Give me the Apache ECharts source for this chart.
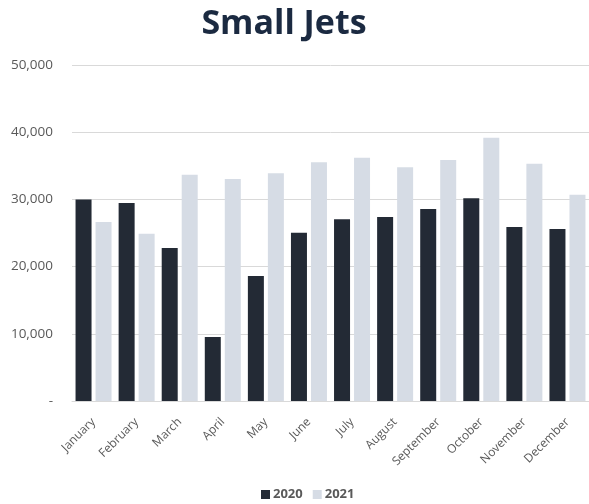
<!DOCTYPE html>
<html><head><meta charset="utf-8">
<script src="https://cdn.jsdelivr.net/npm/echarts@6/dist/echarts.min.js"></script>
<style>html,body{margin:0;padding:0;background:#fff}#c{width:589px;height:504px}</style>
</head><body><div id="c"></div>
<script>
const months = ['January','February','March','April','May','June','July','August','September','October','November','December'];
const s2020 = [30000,29450,22770,9520,18600,25050,27030,27380,28570,30160,25890,25600];
const s2021 = [26640,24900,33680,33040,33880,35520,36200,34770,35860,39180,35320,30700];
const seriesNames = ['2020','2021'];
const yTicks = [0,10000,20000,30000,40000,50000];

const chart = echarts.init(document.getElementById('c'), null, {renderer:'canvas'});
const font = '"Open Sans", sans-serif';
chart.setOption({
  animation:false,
  title:{text:'Small Jets',left:279,top:2,textAlign:'center',
    textStyle:{fontFamily:font,fontWeight:'bold',fontSize:34,color:'#1b2a41'}},
  legend:{bottom:-2,left:256,itemWidth:9,itemHeight:9,itemGap:10,icon:'rect',
    textStyle:{fontFamily:font,fontWeight:'bold',fontSize:13,color:'#595959',padding:[0,0,0,-2]},
    data:seriesNames},
  grid:{left:72,top:65,width:518,height:336},
  xAxis:{type:'category',data:months,
    axisLine:{lineStyle:{color:'#d9d9d9'}},axisTick:{show:false},
    axisLabel:{rotate:45,interval:0,fontFamily:font,fontSize:12,color:'#595959',margin:19}},
  yAxis:{type:'value',min:yTicks[0],max:yTicks[yTicks.length-1],interval:10000,
    axisLine:{show:false},axisTick:{show:false},
    splitLine:{lineStyle:{color:'#d9d9d9'}},
    axisLabel:{fontFamily:font,fontSize:13.5,color:'#595959',margin:19,
      formatter:v=>v===0?'-':v.toLocaleString('en-US')}},
  series:[
    {name:seriesNames[0],type:'bar',data:s2020,barWidth:16,barGap:'25%',
      itemStyle:{color:'#232a35'}},
    {name:seriesNames[1],type:'bar',data:s2021,barWidth:16,barGap:'25%',
      itemStyle:{color:'#d6dce5'}}
  ]
});
</script></body></html>
